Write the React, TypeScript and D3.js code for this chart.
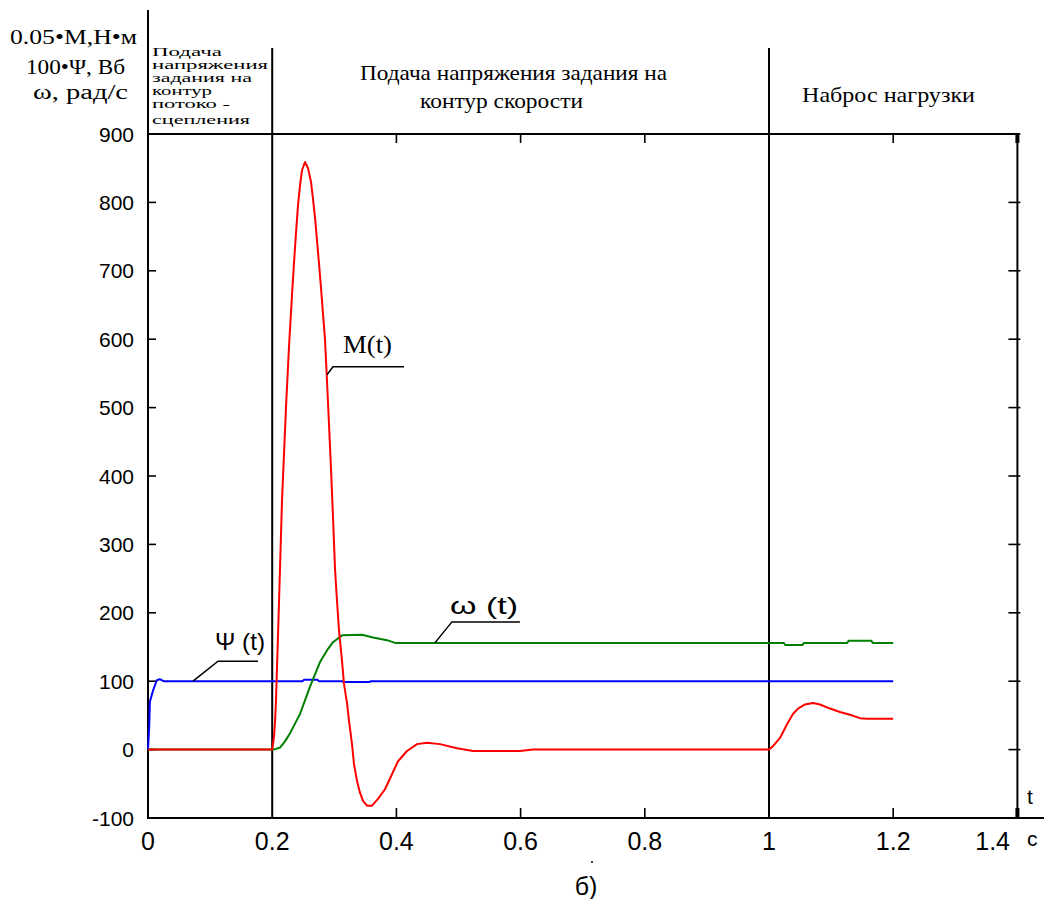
import React from "react";
import * as d3 from "d3";

// Time axis (s) and value axis ticks
const xTickValues = [0, 0.2, 0.4, 0.6, 0.8, 1, 1.2, 1.4];
const xTickLabels = ["0", "0.2", "0.4", "0.6", "0.8", "1", "1.2", "1.4"];
const yTickValues = [900, 800, 700, 600, 500, 400, 300, 200, 100, 0, -100];

// Stage boundaries (s)
const stageBounds = [0.2, 1.0];

// 0.05·M(t), torque
const torque: [number, number][] = [
  [0, 0], [0.2, 0], [0.2016, 10], [0.203, 20], [0.2045, 40], [0.2061, 71],
  [0.211, 217], [0.2158, 364], [0.2222, 500], [0.2271, 590], [0.2319, 665],
  [0.2351, 711], [0.2383, 755], [0.2415, 795], [0.2448, 825], [0.248, 847],
  [0.2528, 859], [0.2577, 850], [0.2625, 830], [0.2657, 805], [0.2689, 778],
  [0.2721, 745], [0.2754, 710], [0.2786, 675], [0.2818, 637], [0.285, 600],
  [0.2882, 540], [0.2915, 475], [0.2947, 410], [0.2979, 340], [0.3011, 265],
  [0.3043, 218], [0.3076, 174], [0.3124, 130], [0.3156, 96], [0.3205, 68],
  [0.3237, 42], [0.3285, 8], [0.3317, -21], [0.3366, -46], [0.3414, -63],
  [0.3462, -75], [0.3527, -82], [0.3607, -82], [0.3704, -72], [0.3816, -58],
  [0.3929, -36], [0.4026, -17], [0.4171, -2], [0.4332, 8], [0.4493, 10],
  [0.4702, 8], [0.4976, 2], [0.5233, -2], [0.599, -2], [0.62, 0], [1.0, 0],
  [1.0064, 5], [1.0177, 17], [1.029, 37], [1.0386, 52], [1.0467, 60],
  [1.058, 66], [1.0709, 68], [1.0821, 66], [1.0982, 60], [1.1143, 55],
  [1.1304, 51], [1.1465, 46], [1.1578, 45], [1.2, 45],
];

// ω(t), rad/s
const speed: [number, number][] = [
  [0, 0], [0.2013, 0], [0.2061, 1], [0.2126, 3], [0.2206, 12], [0.2287, 24],
  [0.2367, 38], [0.2448, 52], [0.2528, 72], [0.2609, 92], [0.2689, 110],
  [0.277, 128], [0.2882, 145], [0.2979, 157], [0.3124, 167], [0.3446, 168],
  [0.3623, 164], [0.3849, 160], [0.3977, 156], [1.024, 156], [1.026, 153],
  [1.054, 153], [1.056, 156], [1.126, 156], [1.128, 159], [1.165, 159],
  [1.167, 156], [1.2, 156],
];

// 100·Ψ(t), flux linkage
const flux: [number, number][] = [
  [0, 0], [0.002, 35], [0.003, 70], [0.008, 86], [0.014, 101], [0.019, 103],
  [0.025, 100], [0.249, 100], [0.251, 102], [0.273, 102], [0.275, 100],
  [0.312, 100], [0.314, 99], [0.357, 99], [0.359, 100], [1.2, 100],
];

const W = 1044;
const H = 899;

const x = d3.scaleLinear().domain([0, 1.4]).range([148, 1017.4]);
const y = d3.scaleLinear().domain([-100, 900]).range([818, 134]);

const line = d3
  .line<[number, number]>()
  .x((d) => x(d[0]))
  .y((d) => y(d[1]));

const serif = "'Liberation Serif', 'Times New Roman', serif";
const sans = "'Liberation Sans', Arial, sans-serif";

const firstStageLines = ["Подача", "напряжения", "задания на", "контур", "потоко -", "сцепления"];
const firstStageWidths = [70, 116, 100, 60, 78, 98];
const firstStageBaselines = [56, 69, 82, 95, 108, 124];

export default function App() {
  const left = x(0);
  const right = x(1.4);
  const top = y(900);
  const bottom = y(-100);

  // leader anchors on curves
  const mA: [number, number] = [x(0.2882), y(548)];
  const psiA: [number, number] = [x(0.0725), y(100)];
  const wA: [number, number] = [x(0.462), y(156)];

  return (
    <svg
      width={W}
      height={H}
      viewBox={`0 0 ${W} ${H}`}
      style={{ position: "absolute", left: 0, top: 0, background: "#fff" }}
    >
      <rect x={0} y={0} width={W} height={H} fill="#fff" />

      {/* axis labels, top-left */}
      <g fontFamily={serif} fill="#000" textAnchor="start">
        <text x={10} y={44} fontSize={20} textLength={127} lengthAdjust="spacingAndGlyphs">
          0.05•M,Н•м
        </text>
        <text x={26} y={74} fontSize={20} textLength={99} lengthAdjust="spacingAndGlyphs">
          100•Ψ, Вб
        </text>
        <text x={33} y={99} fontSize={20} textLength={95} lengthAdjust="spacingAndGlyphs">
          ω, рад/с
        </text>
      </g>

      {/* stage annotations */}
      <g fontFamily={serif} fill="#000">
        {firstStageLines.map((s, i) => (
          <text
            key={s}
            x={152}
            y={firstStageBaselines[i]}
            fontSize={11.5}
            textLength={firstStageWidths[i]}
            lengthAdjust="spacingAndGlyphs"
          >
            {s}
          </text>
        ))}
        <text x={360} y={80} fontSize={21} textLength={307} lengthAdjust="spacingAndGlyphs">
          Подача напряжения задания на
        </text>
        <text x={420} y={108} fontSize={21} textLength={163} lengthAdjust="spacingAndGlyphs">
          контур скорости
        </text>
        <text x={802} y={102} fontSize={21} textLength={173} lengthAdjust="spacingAndGlyphs">
          Наброс нагрузки
        </text>
      </g>

      {/* frame */}
      <g stroke="#000" strokeWidth={2} fill="none">
        <line x1={left} y1={10} x2={left} y2={bottom} />
        <line x1={left} y1={top} x2={right} y2={top} />
        <line x1={right} y1={top} x2={right} y2={bottom} />
        <line x1={left - 1} y1={bottom} x2={W} y2={bottom} />
        {stageBounds.map((b) => (
          <line key={b} x1={x(b)} y1={48} x2={x(b)} y2={bottom} />
        ))}
      </g>
      <rect x={right - 2} y={top - 1} width={4} height={10} fill="#000" />
      <rect x={right - 2} y={bottom - 10} width={4} height={10} fill="#000" />

      {/* ticks */}
      <g stroke="#000" strokeWidth={1.6}>
        {yTickValues.map((v) => (
          <g key={v}>
            <line x1={left} y1={y(v)} x2={left + 8} y2={y(v)} />
            <line x1={right - 9} y1={y(v)} x2={right + 3} y2={y(v)} />
          </g>
        ))}
        {xTickValues
          .filter((t) => !stageBounds.includes(t) && t > 0 && t < 1.4)
          .map((t) => (
            <g key={t}>
              <line x1={x(t)} y1={top} x2={x(t)} y2={top + 9} />
              <line x1={x(t)} y1={bottom} x2={x(t)} y2={bottom - 10} />
            </g>
          ))}
      </g>

      {/* tick labels */}
      <g fontFamily={sans} fill="#000">
        {yTickValues.map((v) => (
          <text key={v} x={134} y={y(v)} dy="0.36em" fontSize={21} textAnchor="end">
            {v}
          </text>
        ))}
        {xTickValues.map((t, i) => (
          <text
            key={t}
            x={t === 1.4 ? 1010 : x(t)}
            y={850}
            fontSize={25}
            textAnchor={t === 1.4 ? "end" : "middle"}
          >
            {xTickLabels[i]}
          </text>
        ))}
        <text x={1027} y={804} fontSize={21}>t</text>
        <text x={1027} y={846} fontSize={21}>с</text>
        <text x={586} y={895} fontSize={25} textAnchor="middle">б)</text>
        <circle cx={592} cy={862} r={1} fill="#000" />
      </g>

      {/* curves */}
      <g fill="none" strokeWidth={2} strokeLinejoin="round">
        <path d={line(flux) ?? ""} stroke="#0000ff" />
        <path d={line(speed) ?? ""} stroke="#008000" />
        <path d={line(torque) ?? ""} stroke="#ff0000" />
      </g>

      {/* curve labels with leaders */}
      <g stroke="#000" strokeWidth={1.5} fill="none">
        <polyline points={`${mA[0]},${mA[1]} ${mA[0] + 6},${mA[1] - 8} ${404},${mA[1] - 8}`} />
        <polyline points={`${psiA[0]},${psiA[1]} ${psiA[0] + 25},${psiA[1] - 20} ${258},${psiA[1] - 20}`} />
        <polyline points={`${wA[0]},${wA[1]} ${wA[0] + 17},${wA[1] - 21} ${520},${wA[1] - 21}`} />
      </g>
      <g fill="#000">
        <text x={343} y={353} fontFamily={serif} fontSize={26} textLength={49} lengthAdjust="spacingAndGlyphs">
          M(t)
        </text>
        <text x={215} y={650} fontFamily={sans} fontSize={24} textLength={50} lengthAdjust="spacingAndGlyphs">
          Ψ (t)
        </text>
        <text x={450} y={614} fontFamily={sans} fontSize={24} textLength={68} lengthAdjust="spacingAndGlyphs">
          ω (t)
        </text>
      </g>
    </svg>
  );
}
